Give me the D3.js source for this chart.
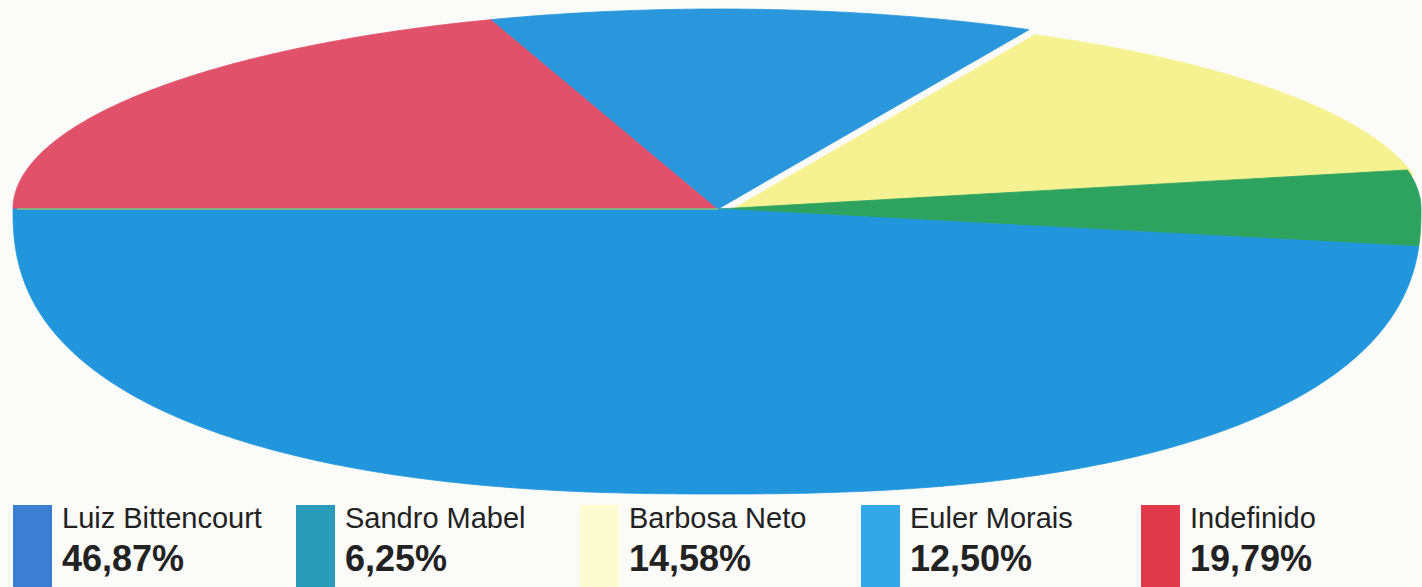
<!DOCTYPE html>
<html><head><meta charset="utf-8">
<script src="https://cdn.jsdelivr.net/npm/d3@7"></script>
<style>
html,body{margin:0;padding:0;background:#fbfbf9;}
svg{display:block;}
</style></head>
<body>
<svg id="chart" width="1422" height="587"></svg>
<script>
// ---- data ----
const names = ["Luiz Bittencourt", "Sandro Mabel", "Barbosa Neto", "Euler Morais", "Indefinido"];
const values = [46.87, 6.25, 14.58, 12.50, 19.79];
const percentLabels = ["46,87%", "6,25%", "14,58%", "12,50%", "19,79%"];
// drawing order clockwise starting at 9 o'clock
const pieOrder = ["Indefinido", "Euler Morais", "Barbosa Neto", "Sandro Mabel", "Luiz Bittencourt"];
const sliceColors = {
  "Luiz Bittencourt": "#2196dc",
  "Sandro Mabel": "#2ea35f",
  "Barbosa Neto": "#f6f292",
  "Euler Morais": "#2a97dc",
  "Indefinido": "#e1526a"
};
const legendColors = {
  "Luiz Bittencourt": "#3c7fd2",
  "Sandro Mabel": "#2a9bb8",
  "Barbosa Neto": "#fdfbd2",
  "Euler Morais": "#33a8e8",
  "Indefinido": "#e03a4a"
};

const svg = d3.select("#chart");

// perspective (tilted) pie geometry
const cx = 718, cy = 209, rxL = 705, rxR = 703, ryT = 200, ryB = 285;
function proj(a) {
  const u = Math.sin(a), c = -Math.cos(a);          // c>0 : lower half
  const rx = u > 0 ? rxR : rxL;
  const ry = c > 0 ? ryB : ryT;
  const n = c > 0 ? 2.4 : 2.0;                       // lower half is fuller
  const v = c > 0 ? Math.pow(c, 1.25) : c;           // foreshortening near the horizon
  const t = Math.pow(Math.pow(Math.abs(u), n) + Math.pow(Math.abs(v), n), -1 / n);
  return [cx + rx * u * t, cy + ry * v * t];
}

const byName = {};
names.forEach((n, i) => byName[n] = values[i]);
const pieData = d3.pie().sort(null).value(d => byName[d])
  .startAngle(-Math.PI / 2).endAngle(3 * Math.PI / 2)(pieOrder);

const line = d3.line();
const offsets = { "Barbosa Neto": [6, 5] };

svg.append("g").selectAll("path").data(pieData).join("path")
  .attr("d", d => {
    const pts = [[cx, cy]];
    const n = Math.max(8, Math.ceil((d.endAngle - d.startAngle) / 0.01));
    for (let i = 0; i <= n; i++) pts.push(proj(d.startAngle + (d.endAngle - d.startAngle) * i / n));
    return line(pts) + "Z";
  })
  .attr("transform", d => { const o = offsets[d.data] || [0, 0]; return `translate(${o[0]},${o[1]})`; })
  .attr("fill", d => sliceColors[d.data])
  .attr("stroke", d => sliceColors[d.data])
  .attr("stroke-width", 0.8);

// thin seam along the left horizontal boundary
svg.append("line").attr("x1", proj(-Math.PI / 2)[0] + 4).attr("y1", cy)
  .attr("x2", cx).attr("y2", cy)
  .attr("stroke", "#8cbf78").attr("stroke-width", 2).attr("opacity", 0.8);

// ---- legend ----
const legendX = [13, 296, 580, 861, 1141];
const lg = svg.append("g").selectAll("g").data(names).join("g")
  .attr("transform", (d, i) => `translate(${legendX[i]},0)`);
lg.append("rect").attr("x", 0).attr("y", 505).attr("width", 39).attr("height", 82)
  .attr("fill", d => legendColors[d]);
lg.append("text").attr("x", 49).attr("y", 528)
  .attr("font-family", "'Liberation Sans', Arial, sans-serif")
  .attr("font-size", 29).attr("fill", "#222")
  .text(d => d);
lg.append("text").attr("x", 49).attr("y", 571)
  .attr("font-family", "'Liberation Sans', Arial, sans-serif")
  .attr("font-weight", "bold")
  .attr("font-size", 36).attr("fill", "#222")
  .text((d, i) => percentLabels[i]);
</script>
</body></html>
